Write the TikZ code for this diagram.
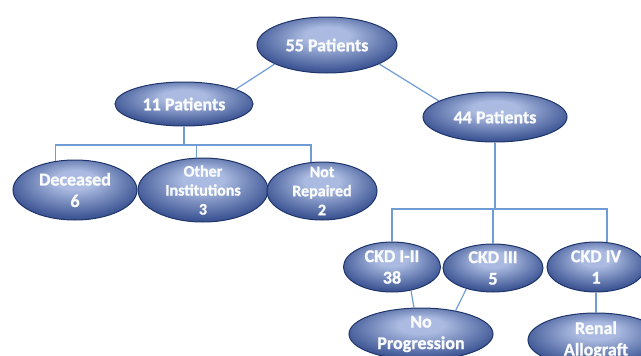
\documentclass[tikz,border=0pt]{standalone}
\usepackage{fontspec}
\setmainfont{Carlito}[BoldFeatures={FakeBold=1.2}]
\usetikzlibrary{shapes.geometric}
\definecolor{orbLite}{RGB}{170,186,224}
\definecolor{orbMid}{RGB}{64,88,150}
\definecolor{orbDark}{RGB}{24,44,104}
\definecolor{orbEdge}{RGB}{30,52,106}
\definecolor{linkBlue}{RGB}{112,156,214}
\pgfdeclareradialshading{orbfill}{\pgfpoint{0bp}{10bp}}{color(0bp)=(orbLite); color(8bp)=(orbLite); color(27bp)=(orbMid); color(44bp)=(orbDark); color(50bp)=(orbDark)}
\tikzset{
  orb/.style={ellipse, draw=orbEdge, line width=1pt, shading=orbfill, text=white!94!orbLite,
    inner sep=-12pt, align=center, font=\bfseries\fontsize{18}{21.5}\selectfont},
  orbsmall/.style={orb, font=\bfseries\fontsize{16}{19}\selectfont},
  link/.style={draw=linkBlue, line width=1.2pt}
}
\begin{document}
\begin{tikzpicture}[x=1pt,y=-1pt]
	\useasboundingbox (0,0) rectangle (641,356);
	% top levels
	\node[orb, minimum width=140pt, minimum height=56pt] (p55) at (327,45) {55 Patients};
	\node[orb, minimum width=138pt, minimum height=44pt] (p11) at (184,104) {11 Patients};
	\node[orb, minimum width=144pt, minimum height=50pt] (p44) at (495,117) {44 Patients};
	% left branch
	\node[orb, minimum width=124pt, minimum height=60pt] (dec) at (75,190) {Deceased\\6};
	\node[orbsmall, minimum width=130pt, minimum height=64pt] (oth) at (203,190) {Other\\Institutions\\3};
	\node[orbsmall, minimum width=110pt, minimum height=58pt] (nrep) at (322,191) {Not\\Repaired\\2};
	% right branch
	\node[orb, minimum width=97pt, minimum height=50pt] (ckd12) at (392,267) {CKD I-II\\38};
	\node[orb, minimum width=100pt, minimum height=48pt] (ckd3) at (493,268) {CKD III\\5};
	\node[orb, minimum width=98pt, minimum height=50pt] (ckd4) at (596,267) {CKD IV\\1};
	\node[orb, minimum width=144pt, minimum height=52pt] (noprog) at (421,334) {No\\Progression};
	\node[orb, minimum width=136pt, minimum height=54pt] (renal) at (596,340) {Renal\\Allograft};
	% connectors
	\draw[link] (p55.-160) -- (p11.16);
	\draw[link] (p55.-20) -- (p44.164);
	\coordinate (j11) at (184,145);
	\draw[link] (p11.south) -- (j11);
	\draw[link] (dec.124) |- (j11) -| (nrep.111);
	\draw[link] (oth.101) -- (oth.101 |- j11);
	\coordinate (j44) at (495,209);
	\draw[link] (p44.south) -- (j44);
	\draw[link] (ckd12.north) |- (j44) -| (ckd4.66);
	\draw[link] (ckd3.north) -- (ckd3.north |- j44);
	\draw[link] (ckd12.-51) -- (noprog.105);
	\draw[link] (ckd3.-142) -- (noprog.34);
	\draw[link] (ckd4.south) -- (renal.north);
\end{tikzpicture}
\end{document}
